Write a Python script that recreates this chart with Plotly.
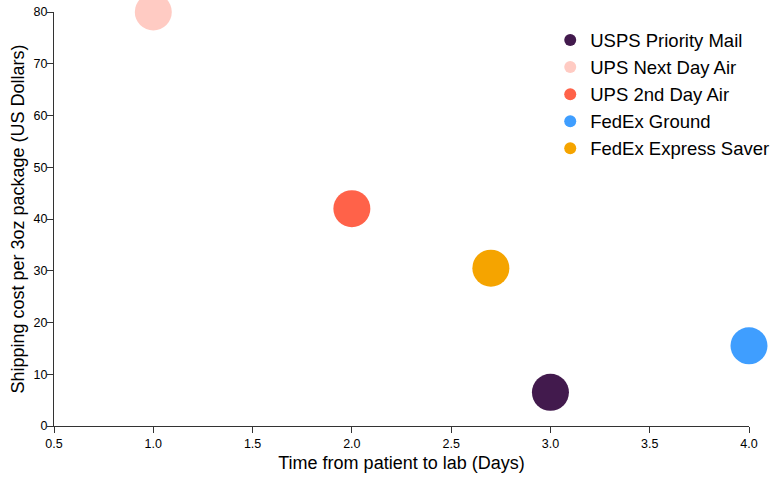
import plotly.graph_objects as go

carriers = ["USPS Priority Mail", "UPS Next Day Air", "UPS 2nd Day Air", "FedEx Ground", "FedEx Express Saver"]
days = [3.0, 1.0, 2.0, 4.0, 2.7]
cost = [6.5, 80.0, 42.0, 15.5, 30.5]
colors = ["#421a4d", "#ffcbc3", "#ff6249", "#3f9eff", "#f5a400"]

x_ticks = [0.5, 1.0, 1.5, 2.0, 2.5, 3.0, 3.5, 4.0]
y_ticks = [0, 10, 20, 30, 40, 50, 60, 70, 80]

FONT = "Liberation Sans, Arial, Helvetica, sans-serif"

fig = go.Figure()
for i, name in enumerate(carriers):
    fig.add_trace(go.Scatter(
        x=[days[i]], y=[cost[i]], mode="markers", name=name,
        marker=dict(size=37, color=colors[i], line=dict(width=0)),
        cliponaxis=False,
    ))

axis_common = dict(
    showgrid=False, zeroline=False, showline=True, linecolor="#333", linewidth=1,
    ticks="outside", ticklen=6, tickcolor="#333", tickfont=dict(size=12.5, color="#000", family=FONT),
    mirror=False, automargin=False,
)
fig.update_xaxes(range=[0.5, 4.0], tickvals=x_ticks, tickformat=".1f",
                 title=dict(text="Time from patient to lab (Days)", font=dict(size=18, color="#000"), standoff=6),
                 **axis_common)
fig.update_yaxes(range=[0, 80], tickvals=y_ticks, ticklabelstandoff=-3,
                 title=dict(text="Shipping cost per 3oz package (US Dollars)", font=dict(size=18, color="#000"), standoff=4),
                 **axis_common)

fig.update_layout(
    width=773, height=481,
    margin=dict(l=54, r=24, t=12, b=55, autoexpand=False),
    plot_bgcolor="white", paper_bgcolor="white",
    font=dict(family=FONT, color="#000"),
    legend=dict(x=0.714, y=0.977, xanchor="left", yanchor="top",
                font=dict(size=18.5, color="#000", family=FONT),
                itemsizing="constant", tracegroupgap=0, bgcolor="rgba(0,0,0,0)"),
)
fig.write_html("out.html", config={"displayModeBar": False},
               post_script="document.body.style.margin='0';")
